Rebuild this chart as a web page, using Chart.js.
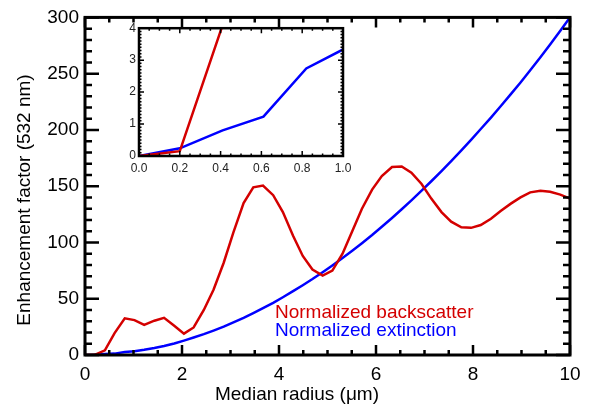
<!DOCTYPE html>
<html>
<head>
<meta charset="utf-8">
<script src="https://cdn.jsdelivr.net/npm/chart.js@4.4.0/dist/chart.umd.min.js"></script>
<style>
  html, body { margin: 0; padding: 0; background: #fff; }
  #wrap { position: relative; width: 590px; height: 407px; }
  #mainChart { position: absolute; left: 0; top: 0; }
  #insetChart { position: absolute; left: 100px; top: 18px; }
</style>
</head>
<body>
<div id="wrap">
  <canvas id="mainChart" width="590" height="407"></canvas>
  <canvas id="insetChart" width="260" height="172"></canvas>
</div>
<script>
// median radius (um)
const radius = [
    0, 0.2, 0.41, 0.61, 0.82, 1.02, 1.22, 1.43, 1.63, 1.84,
    2.04, 2.24, 2.45, 2.65, 2.86, 3.06, 3.27, 3.47, 3.67, 3.88,
    4.08, 4.29, 4.49, 4.69, 4.9, 5.1, 5.31, 5.51, 5.71, 5.92,
    6.12, 6.33, 6.53, 6.73, 6.94, 7.14, 7.35, 7.55, 7.76, 7.96,
    8.16, 8.37, 8.57, 8.78, 8.98, 9.18, 9.39, 9.59, 9.8, 10
];
const backscatter = [
    0, 0.15, 4.1, 19.5, 32.6, 31, 26.8, 30.5, 33, 26,
    19, 24.5, 40, 58, 82, 109, 135, 149, 150.5, 142,
    127, 106, 88, 76, 70.6, 75, 90, 110, 130, 147,
    159, 167, 167.5, 162, 152, 139, 127, 118.5, 113.5, 113,
    115.5, 121, 128, 134.5, 140, 144.5, 146, 145, 142.5, 139
];
const extinction = [
    0, 0.24, 0.8, 1.23, 2.74, 3.4, 4.6, 6.2, 8.0, 10.2,
    12.8, 15.5, 18.5, 21.7, 25.2, 29, 33, 37.2, 41.6, 46.4,
    51.3, 56.7, 62, 67.5, 73.6, 79.6, 86.2, 92.7, 99.4, 106.7,
    114, 121.8, 129.5, 137.4, 146, 154.4, 163.5, 172.3, 181.9, 191.2,
    200.8, 211, 221, 231.8, 242.2, 253, 264.6, 276, 288.1, 300
];
const mainXTicks = [0, 2, 4, 6, 8, 10];
const mainYTicks = [0, 50, 100, 150, 200, 250, 300];
const insetXTicks = [0, 0.2, 0.4, 0.6, 0.8, 1.0];
const insetYTicks = [0, 1, 2, 3, 4];

const RED = '#d40000';
const BLUE = '#0000ff';
const FONT = "'Liberation Sans', Arial, Helvetica, sans-serif";

// major ticks come from the scale, minor ticks split each interval
function markValues(scale, minor) {
    const majors = scale.ticks.map(t => t.value);
    const step = majors[1] - majors[0];
    const out = [];
    majors.forEach((v, i) => {
        out.push({ v: v, major: true });
        if (i < majors.length - 1) {
            for (let k = 1; k < minor; k++) out.push({ v: v + step * k / minor, major: false });
        }
    });
    return out;
}

// box around the plot, inward ticks on all four sides, free text
const framePlugin = {
    id: 'frame',
    afterDatasetsDraw(chart, args, o) {
        const { ctx, chartArea: a } = chart;
        const x = chart.scales.x, y = chart.scales.y;
        ctx.save();
        ctx.strokeStyle = '#000';
        ctx.lineWidth = o.tickWidth;
        ctx.beginPath();
        markValues(x, o.xMinor).forEach(m => {
            const px = x.getPixelForValue(m.v);
            const len = m.major ? o.xLen : o.xLen / 2;
            ctx.moveTo(px, a.bottom); ctx.lineTo(px, a.bottom - len);
            ctx.moveTo(px, a.top); ctx.lineTo(px, a.top + len);
        });
        markValues(y, o.yMinor).forEach(m => {
            const py = y.getPixelForValue(m.v);
            const len = m.major ? o.yLen : o.yLen / 2;
            ctx.moveTo(a.left, py); ctx.lineTo(a.left + len, py);
            ctx.moveTo(a.right, py); ctx.lineTo(a.right - len, py);
        });
        ctx.stroke();
        ctx.lineWidth = o.lineWidth;
        ctx.strokeRect(a.left, a.top, a.right - a.left, a.bottom - a.top);

        (o.notes || []).forEach(n => {
            ctx.save();
            ctx.font = n.size + 'px ' + FONT;
            ctx.fillStyle = n.color || '#000';
            ctx.textAlign = n.align || 'left';
            ctx.textBaseline = 'alphabetic';
            ctx.translate(n.x, n.y);
            if (n.rotate) ctx.rotate(-Math.PI / 2);
            ctx.fillText(n.text, 0, 0);
            ctx.restore();
        });
        ctx.restore();
    }
};

function series(values, color) {
    return {
        data: radius.map((r, i) => ({ x: r, y: values[i] })),
        borderColor: color,
        borderWidth: 2.5,
        pointRadius: 0,
        fill: false,
        clip: 0
    };
}

function axis(min, max, tickList, opts) {
    return {
        type: 'linear',
        min: min,
        max: max,
        afterBuildTicks: s => { s.ticks = tickList.map(v => ({ value: v })); },
        afterFit: opts.fit,
        grid: { display: false, drawTicks: false },
        border: { display: false },
        ticks: {
            autoSkip: false,
            maxRotation: 0,
            padding: opts.padding,
            color: opts.color,
            font: { family: FONT, size: opts.size },
            callback: opts.format || (v => v)
        }
    };
}

new Chart(document.getElementById('mainChart'), {
    type: 'line',
    data: { datasets: [series(backscatter, RED), series(extinction, BLUE)] },
    options: {
        responsive: false,
        animation: false,
        devicePixelRatio: 1,
        layout: { padding: { top: 11, right: 20, left: 0, bottom: 0 } },
        plugins: {
            legend: { display: false },
            tooltip: { enabled: false },
            frame: {
                lineWidth: 3, tickWidth: 2.5,
                xLen: 10, yLen: 14, xMinor: 4, yMinor: 5,
                notes: [
                    { text: 'Normalized backscatter', x: 275, y: 318, size: 19, color: RED },
                    { text: 'Normalized extinction', x: 275, y: 336, size: 19, color: BLUE },
                    { text: 'Median radius (μm)', x: 297, y: 400, size: 19, align: 'center' },
                    { text: 'Enhancement factor (532 nm)', x: 30, y: 200, size: 19, align: 'center', rotate: true }
                ]
            }
        },
        scales: {
            x: axis(0, 10, mainXTicks, { fit: s => { s.height = 52; }, padding: 8, color: '#000', size: 19 }),
            y: axis(0, 300, mainYTicks, { fit: s => { s.width = 85; }, padding: 6, color: '#000', size: 19 })
        }
    },
    plugins: [framePlugin]
});

new Chart(document.getElementById('insetChart'), {
    type: 'line',
    data: { datasets: [series(backscatter, RED), series(extinction, BLUE)] },
    options: {
        responsive: false,
        animation: false,
        devicePixelRatio: 1,
        layout: { padding: { top: 10, right: 17, left: 0, bottom: 0 } },
        plugins: {
            legend: { display: false },
            tooltip: { enabled: false },
            frame: { lineWidth: 2.5, tickWidth: 1.5, xLen: 5, yLen: 5, xMinor: 4, yMinor: 10 }
        },
        scales: {
            x: axis(0, 1, insetXTicks, { fit: s => { s.height = 34; }, padding: 5, color: '#222', size: 12, format: v => v.toFixed(1) }),
            y: axis(0, 4, insetYTicks, { fit: s => { s.width = 39; }, padding: 3, color: '#222', size: 12 })
        }
    },
    plugins: [framePlugin]
});
</script>
</body>
</html>
